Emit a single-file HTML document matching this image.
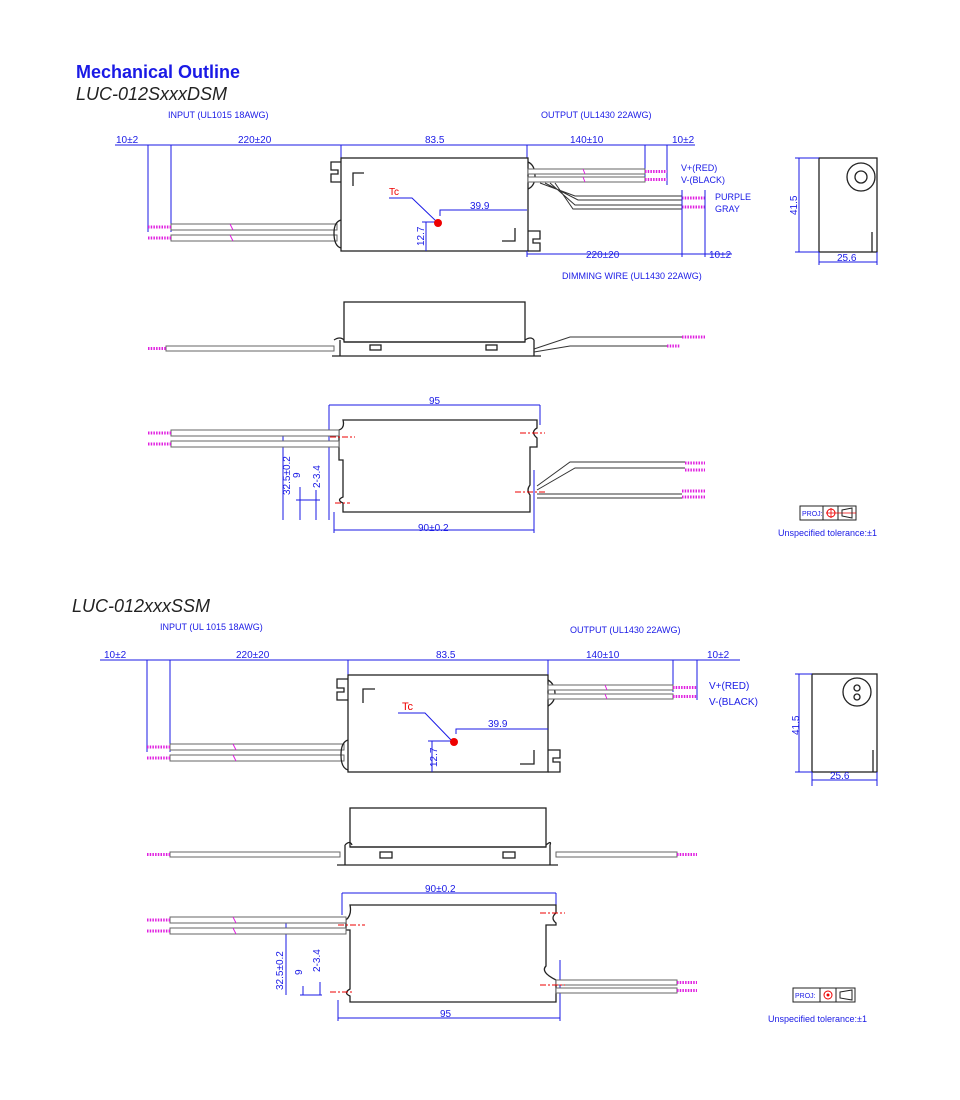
<!DOCTYPE html>
<html><head><meta charset="utf-8"><style>
body{margin:0;background:#fff;width:960px;height:1100px;overflow:hidden}
svg{display:block;font-family:"Liberation Sans",sans-serif}
.b{fill:#1a1ae6;font-size:10px}
.s{fill:#1a1ae6;font-size:10px}
.L{stroke:#1a1ae6;stroke-width:1;fill:none}
.k{stroke:#222;stroke-width:1.3;fill:none}
.kf{stroke:#222;stroke-width:1.3;fill:#fff}
.w{stroke:#666;stroke-width:1;fill:#fff}
.m{stroke:#e020e0;stroke-width:3;fill:none;stroke-dasharray:1.5 1.2}
.r{stroke:#e00;stroke-width:1;fill:none;stroke-dasharray:6 2 2 2}
</style></head><body>
<svg width="960" height="1100" viewBox="0 0 960 1100">
<text x="76" y="78" font-size="18" font-weight="bold" fill="#1a1ae6">Mechanical Outline</text>
<text x="76" y="100" font-size="18" font-style="italic" fill="#222">LUC-012SxxxDSM</text>
<text class="s" x="168" y="118" style="font-size:9px">INPUT (UL1015 18AWG)</text>
<text class="s" x="541" y="118" style="font-size:9px">OUTPUT (UL1430 22AWG)</text>
<path class="L" d="M115 145H695M148 145V232M171 145V232M341 145V158M527 145V165M645 145V182M667 145V185"/>
<text class="s" x="116" y="143">10±2</text><text class="s" x="238" y="143">220±20</text><text class="s" x="425" y="143">83.5</text><text class="s" x="570" y="143">140±10</text><text class="s" x="672" y="143">10±2</text>
<rect class="w" x="171" y="224" width="166" height="6"/><rect class="w" x="171" y="235" width="166" height="6"/>
<path class="m" d="M148 227H171M148 238H171"/>
<path d="M230 224l3 6M230 235l3 6" stroke="#e020e0" fill="none"/>
<rect class="kf" x="341" y="158" width="187" height="93"/>
<path class="k" d="M341 162H331V170H338V174H331V182H341M528 231H540V239H533V243H540V251H528M341 220Q334 222 334 233Q334 246 341 248M528 162Q535 165 535 176Q535 186 528 189"/>
<path class="k" d="M353 186V173H364M515 228V241H502" stroke-width="2"/>
<text x="389" y="195" font-size="10" fill="#e00">Tc</text>
<path class="L" d="M389 198H412L437 222M440 216V210H527M426 222V251M422 222H438"/>
<circle cx="438" cy="223" r="4" fill="#e00"/>
<text class="s" x="470" y="209">39.9</text>
<text class="s" transform="translate(424,246) rotate(-90)">12.7</text>
<rect class="w" x="528" y="169" width="117" height="5"/><rect class="w" x="528" y="177" width="117" height="5"/>
<path class="m" d="M645 171.5H667M645 179.5H667"/>
<path d="M583 169l2 5M583 177l2 5" stroke="#e020e0" fill="none"/>
<path d="M540 183L575 196H682M545 183L578 200H682M550 183L575 205H682M555 183L573 209H682" stroke="#333" stroke-width="1" fill="none"/>
<path class="m" d="M682 198H705M682 207H705"/>
<text class="s" x="681" y="171" style="font-size:9px">V+(RED)</text><text class="s" x="681" y="183" style="font-size:9px">V-(BLACK)</text>
<text class="s" x="715" y="200" style="font-size:9px">PURPLE</text><text class="s" x="715" y="212" style="font-size:9px">GRAY</text>
<path class="L" d="M527 254H732M682 190V257M705 190V257M527 251V257"/>
<text class="s" x="586" y="258">220±20</text><text class="s" x="709" y="258">10±2</text>
<text class="s" x="562" y="279" style="font-size:9px">DIMMING WIRE (UL1430 22AWG)</text>
<rect class="kf" x="819" y="158" width="58" height="94"/>
<circle class="k" cx="861" cy="177" r="14"/><circle class="k" cx="861" cy="177" r="6"/>
<path class="k" d="M872 232V252"/>
<path class="L" d="M795 158H819M795 252H819M799 158V252M819 252V265M877 252V265M819 262H877"/>
<text class="s" transform="translate(797,215) rotate(-90)">41.5</text><text class="s" x="837" y="261">25.6</text>
<rect class="kf" x="344" y="302" width="181" height="40"/>
<path class="k" d="M340 340V356H534V340M344 342H525M332 356H344M525 356H541M334 340Q340 336 344 340M525 340Q531 336 534 340"/>
<rect class="k" x="370" y="345" width="11" height="5"/><rect class="k" x="486" y="345" width="11" height="5"/>
<rect class="w" x="166" y="346" width="168" height="5"/><path class="m" d="M148 348.5H166"/>
<path d="M534 349L570 337H682M534 352L570 346H667" stroke="#333" fill="none"/>
<path class="m" d="M682 337H705M667 346H680"/>
<path class="L" d="M329 405H540M329 405V520M540 405V425M334 530H534M334 512V533M534 470V533M283 432V520M300 487V520M316 490V520M280 432H335M296 500H320"/>
<text class="s" x="429" y="404">95</text><text class="s" x="418" y="531">90±0.2</text>
<text class="s" transform="translate(290,495) rotate(-90)">32.5±0.2</text><text class="s" transform="translate(300,478) rotate(-90)">9</text><text class="s" transform="translate(320,488) rotate(-90)">2-3.4</text>
<path class="k" d="M343 420H537V428Q530 432 537 438V447H530V485Q526 490 530 495V512H343V503Q336 500 343 497V460H339V430Q345 428 343 420Z" fill="#fff"/>
<rect class="w" x="171" y="430" width="168" height="6"/><rect class="w" x="171" y="441" width="168" height="6"/>
<path class="m" d="M148 433H171M148 444H171"/>
<path d="M537 486L570 462H685M537 490L575 468H685M537 494H682M537 498H682" stroke="#333" fill="none"/>
<path class="m" d="M685 463H705M685 470H705M682 491H705M682 497H705"/>
<path class="r" d="M330 437H355M520 433H545M515 492H545M335 503H350"/>
<rect x="800" y="506" width="56" height="14" fill="#fff" stroke="#222"/><path d="M823 506V520M838 506V520" stroke="#222"/>
<text x="802" y="516" font-size="7" fill="#1a1ae6">PROJ:</text>
<circle cx="831" cy="513" r="4" fill="none" stroke="#e00"/><path d="M826 513H856M831 508V518" stroke="#e00" stroke-width=".8"/>
<path d="M842 510L852 508V518L842 516Z" fill="none" stroke="#222"/>
<text class="s" x="778" y="536" style="font-size:9px">Unspecified tolerance:±1</text>

<text x="72" y="612" font-size="18" font-style="italic" fill="#222">LUC-012xxxSSM</text>
<text class="s" x="160" y="630" style="font-size:9px">INPUT (UL 1015 18AWG)</text>
<text class="s" x="570" y="633" style="font-size:9px">OUTPUT (UL1430 22AWG)</text>
<path class="L" d="M100 660H740M147 660V752M170 660V752M348 660V676M548 660V680M673 660V692M697 660V700"/>
<text class="b" x="104" y="658">10±2</text><text class="b" x="236" y="658">220±20</text><text class="b" x="436" y="658">83.5</text><text class="b" x="586" y="658">140±10</text><text class="b" x="707" y="658">10±2</text>
<rect class="w" x="170" y="744" width="174" height="6"/><rect class="w" x="170" y="755" width="174" height="6"/>
<path class="m" d="M147 747H170M147 758H170"/>
<path d="M233 744l3 6M233 755l3 6" stroke="#e020e0" fill="none"/>
<rect class="kf" x="348" y="675" width="200" height="97"/>
<path class="k" d="M348 679H337V688H344V692H337V700H348M548 750H560V758H553V762H560V772H548M348 740Q341 742 341 755Q341 768 348 770M548 680Q555 684 555 694Q555 702 548 706"/>
<path class="k" d="M363 703V689H375M534 750V764H520" stroke-width="2"/>
<text x="402" y="710" font-size="11" fill="#e00">Tc</text>
<path class="L" d="M398 713H425L452 741M456 734V729H548M432 741V772M428 741H452"/>
<circle cx="454" cy="742" r="4" fill="#e00"/>
<text class="b" x="488" y="727">39.9</text>
<text class="b" transform="translate(437,767) rotate(-90)">12.7</text>
<rect class="w" x="548" y="685" width="125" height="5"/><rect class="w" x="548" y="694" width="125" height="5"/>
<path class="m" d="M673 687.5H697M673 696.5H697"/>
<path d="M605 685l2 5M605 694l2 5" stroke="#e020e0" fill="none"/>
<text class="b" x="709" y="689">V+(RED)</text><text class="b" x="709" y="705">V-(BLACK)</text>
<rect class="kf" x="812" y="674" width="65" height="98"/>
<circle class="k" cx="857" cy="692" r="14"/><circle class="k" cx="857" cy="688" r="3"/><circle class="k" cx="857" cy="697" r="3"/>
<path class="k" d="M873 750V772"/>
<path class="L" d="M795 674H812M795 772H812M799 674V772M812 772V786M877 772V786M812 780H877"/>
<text class="b" transform="translate(799,735) rotate(-90)">41.5</text><text class="b" x="830" y="779">25.6</text>
<rect class="kf" x="350" y="808" width="196" height="39"/>
<path class="k" d="M345 845V865H550V845M350 847H546M337 865H350M546 865H558M345 845Q350 840 352 845M546 845Q552 840 550 845"/>
<rect class="k" x="380" y="852" width="12" height="6"/><rect class="k" x="503" y="852" width="12" height="6"/>
<rect class="w" x="170" y="852" width="170" height="5"/><path class="m" d="M147 854.5H170"/>
<rect class="w" x="556" y="852" width="121" height="5"/><path class="m" d="M677 854.5H697"/>
<path class="L" d="M342 893H556M342 893V915M556 893V912M338 1018H560M338 1000V1021M560 960V1021M286 918V995M303 986V995M320 982V995M283 918H345M300 995H322"/>
<text class="b" x="425" y="892">90±0.2</text><text class="b" x="440" y="1017">95</text>
<text class="b" transform="translate(283,990) rotate(-90)">32.5±0.2</text><text class="b" transform="translate(302,975) rotate(-90)">9</text><text class="b" transform="translate(320,972) rotate(-90)">2-3.4</text>
<path class="k" d="M350 905H556V913Q550 918 556 923V925H546V966Q540 972 556 980V1002H350V996Q343 993 350 989V930H346V920Q352 915 350 905Z" fill="#fff"/>
<rect class="w" x="170" y="917" width="176" height="6"/><rect class="w" x="170" y="928" width="176" height="6"/>
<path class="m" d="M147 920H170M147 931H170"/>
<path d="M233 917l3 6M233 928l3 6" stroke="#e020e0" fill="none"/>
<rect class="w" x="556" y="980" width="121" height="5"/><rect class="w" x="556" y="988" width="121" height="5"/>
<path class="m" d="M677 982.5H697M677 990.5H697"/>
<path class="r" d="M338 925H365M540 913H565M540 985H565M330 992H352"/>
<rect x="793" y="988" width="62" height="14" fill="#fff" stroke="#222"/><path d="M820 988V1002M836 988V1002" stroke="#222"/>
<text x="795" y="998" font-size="7" fill="#1a1ae6">PROJ:</text>
<circle cx="828" cy="995" r="4" fill="none" stroke="#e00"/><circle cx="828" cy="995" r="1.5" fill="#e00"/>
<path d="M840 992L852 990V1000L840 998Z" fill="none" stroke="#222"/>
<text class="s" x="768" y="1022" style="font-size:9px">Unspecified tolerance:±1</text>
</svg>
</body></html>
